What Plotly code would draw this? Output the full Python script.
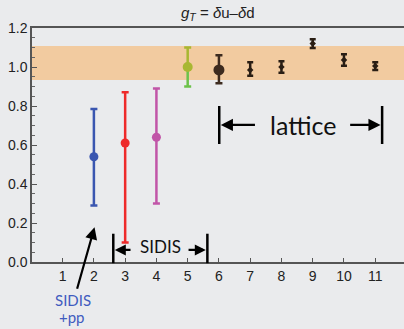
import plotly.graph_objects as go

# ---- data ----
x_pos = [2, 3, 4, 5, 6, 7, 8, 9, 10, 11]
g_T = [0.54, 0.61, 0.64, 1.00, 0.985, 0.985, 1.00, 1.12, 1.036, 1.005]
err_plus = [0.245, 0.26, 0.25, 0.10, 0.075, 0.04, 0.03, 0.022, 0.03, 0.02]
err_minus = [0.25, 0.51, 0.34, 0.10, 0.068, 0.03, 0.03, 0.022, 0.03, 0.02]
colors = ["#3a56b0", "#ee2a2a", "#c155a8", "#a8b732", "#3d2b1f",
          "#2a1e14", "#2a1e14", "#2a1e14", "#2a1e14", "#2a1e14"]
green_lower = "#6cc24a"
band_lo, band_hi = 0.933, 1.108
x_ticks = list(range(1, 12))
y_ticks = [0.0, 0.2, 0.4, 0.6, 0.8, 1.0, 1.2]

BG = "#eaebed"
fig = go.Figure()

fig.add_shape(type="rect", xref="x", yref="y", x0=0, x1=12.5, y0=band_lo, y1=band_hi,
              fillcolor="#f2cba0", line_width=0, layer="below")

for i, (xv, yv, ep, em, c) in enumerate(zip(x_pos, g_T, err_plus, err_minus, colors)):
    big = i < 5
    if xv == 5:
        # lower part of the bar in a lighter green
        fig.add_trace(go.Scatter(
            x=[xv], y=[yv], mode="markers",
            marker=dict(size=1, color=green_lower),
            error_y=dict(type="data", symmetric=False, array=[0], arrayminus=[em],
                         color=green_lower, thickness=2.5, width=3.5),
            showlegend=False, hoverinfo="skip"))
        fig.add_trace(go.Scatter(
            x=[xv], y=[yv], mode="markers",
            marker=dict(size=10, color=c),
            error_y=dict(type="data", symmetric=False, array=[ep], arrayminus=[0],
                         color=c, thickness=2.5, width=3.5),
            showlegend=False))
        continue
    fig.add_trace(go.Scatter(
        x=[xv], y=[yv], mode="markers",
        marker=dict(size=(11 if xv == 6 else 9) if big else 5,
                    symbol="circle" if big else "diamond", color=c),
        error_y=dict(type="data", symmetric=False, array=[ep], arrayminus=[em],
                     color=c, thickness=2.5, width=3.5 if big else 3),
        showlegend=False))

annots = []
# lattice bracket
for xb in (6.01, 11.22):
    fig.add_shape(type="line", xref="x", yref="y", x0=xb, x1=xb, y0=0.605, y1=0.80,
                  line=dict(color="black", width=2.5))
annots.append(dict(x=6.06, y=0.703, ax=7.2, ay=0.703, xref="x", yref="y", axref="x", ayref="y",
                   text="", showarrow=True, arrowhead=2, arrowsize=1.1, arrowwidth=2.2, arrowcolor="black"))
annots.append(dict(x=11.17, y=0.703, ax=10.15, ay=0.703, xref="x", yref="y", axref="x", ayref="y",
                   text="", showarrow=True, arrowhead=2, arrowsize=1.1, arrowwidth=2.2, arrowcolor="black"))
annots.append(dict(x=8.69, y=0.703, xref="x", yref="y", text="lattice", showarrow=False,
                   font=dict(family="Lato", size=25, color="#111")))
# SIDIS bracket
for xb in (2.62, 5.63):
    fig.add_shape(type="line", xref="x", yref="paper", x0=xb, x1=xb, y0=0.145 / 1.2, y1=-0.005,
                  line=dict(color="black", width=2.5))
annots.append(dict(x=2.67, y=0.062, ax=3.22, ay=0.062, xref="x", yref="y", axref="x", ayref="y",
                   text="", showarrow=True, arrowhead=2, arrowsize=1.0, arrowwidth=2.2, arrowcolor="black"))
annots.append(dict(x=5.58, y=0.062, ax=4.98, ay=0.062, xref="x", yref="y", axref="x", ayref="y",
                   text="", showarrow=True, arrowhead=2, arrowsize=1.0, arrowwidth=2.2, arrowcolor="black"))
annots.append(dict(x=4.12, y=0.078, xref="x", yref="y", text="SIDIS", showarrow=False,
                   font=dict(family="Lato", size=17, color="#111")))
# SIDIS + pp
annots.append(dict(x=2.02, y=0.178, ax=1.45, ay=-0.145, xref="x", yref="y", axref="x", ayref="y",
                   text="", showarrow=True, arrowhead=2, arrowsize=1.1, arrowwidth=2.2, arrowcolor="black"))
annots.append(dict(x=1.33, y=-0.25 / 1.2, xref="x", yref="paper", text="SIDIS", showarrow=False,
                   font=dict(family="Lato", size=15, color="#3f5bbf")))
annots.append(dict(x=1.29, y=-0.336 / 1.2, xref="x", yref="paper", text="+pp", showarrow=False,
                   font=dict(family="Lato", size=15, color="#3f5bbf")))
# title
annots.append(dict(x=0.5, y=1.0, xref="paper", yref="paper", yanchor="bottom", yshift=3,
                   text="<i>g<sub>T</sub></i> = <i>δ</i>u\u2013<i>δ</i>d", showarrow=False,
                   font=dict(family="Liberation Sans", size=15, color="#222")))

fig.update_layout(
    width=404, height=329,
    margin=dict(l=32, r=0, t=28, b=67),
    paper_bgcolor=BG, plot_bgcolor=BG,
    annotations=annots,
    font=dict(family="Liberation Sans", size=14, color="#222"),
    xaxis=dict(range=[0.02, 11.92], tickvals=x_ticks, ticks="inside", ticklen=4,
               tickcolor="#555", showline=True, linecolor="#555", linewidth=1.5,
               mirror=True, showgrid=False, zeroline=False, automargin=False,
               tickfont=dict(size=14)),
    yaxis=dict(range=[0, 1.2], tickvals=y_ticks, tickformat=".1f", ticks="inside",
               ticklen=5, tickcolor="#555", showline=True, linecolor="#555", linewidth=1.5,
               showgrid=False, zeroline=False, tickfont=dict(size=14), automargin=False,
               minor=dict(dtick=0.05, ticks="inside", ticklen=3, tickcolor="#666")),
)

fig.write_html("out.html", config={"displayModeBar": False},
               post_script="document.body.style.margin='0';document.body.style.background='%s';" % BG)
